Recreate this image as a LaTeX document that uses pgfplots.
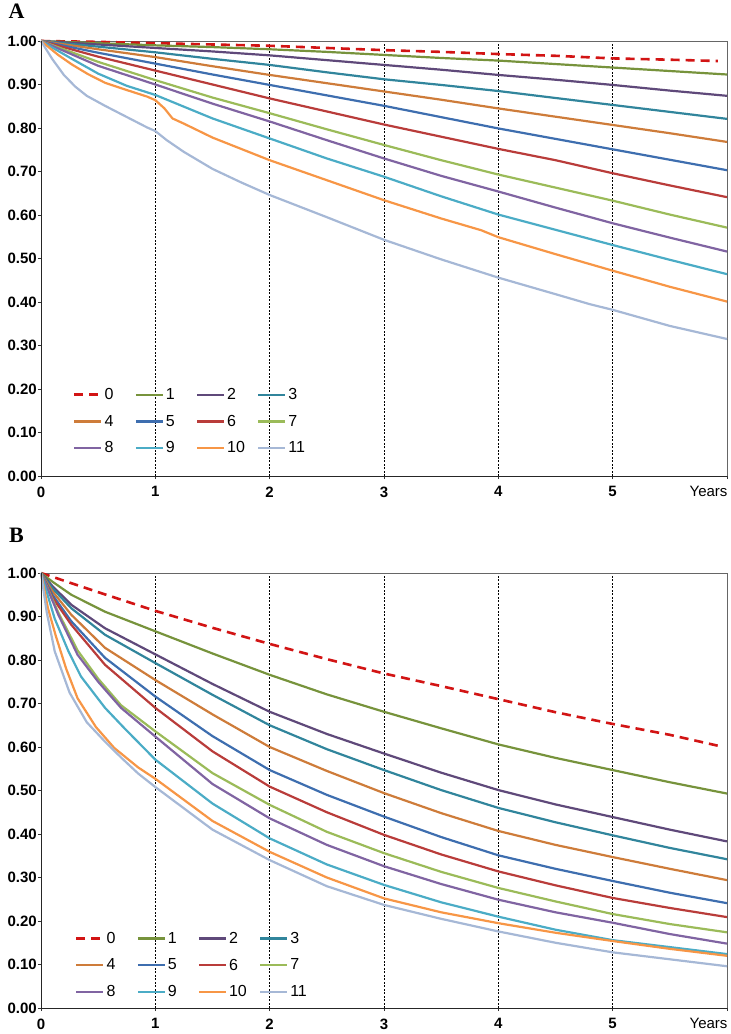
\documentclass[border=0pt]{standalone}
\usepackage{pgfplots}
\pgfplotsset{compat=1.18}
\usepackage{fontspec}
\setmainfont{Liberation Sans}
\newfontfamily\serifbf{Liberation Serif}

\definecolor{c0}{RGB}{210,20,20}
\definecolor{c1}{RGB}{119,147,60}
\definecolor{c2}{RGB}{95,73,122}
\definecolor{c3}{RGB}{49,133,156}
\definecolor{c4}{RGB}{206,124,58}
\definecolor{c5}{RGB}{62,110,175}
\definecolor{c6}{RGB}{185,60,58}
\definecolor{c7}{RGB}{155,187,89}
\definecolor{c8}{RGB}{128,100,162}
\definecolor{c9}{RGB}{75,172,198}
\definecolor{c10}{RGB}{247,150,70}
\definecolor{c11}{RGB}{166,184,214}

\newcommand\lgd[1]{\makebox[18pt][l]{#1}}

\pgfplotsset{panel/.style={
  scale only axis, width=686pt, height=435pt,
  xmin=0, xmax=6, ymin=0, ymax=1,
  clip=false,
  axis line style={black!60, line width=0.8pt},
  xtick={0,1,2,3,4,5},
  ytick={0,0.1,0.2,0.3,0.4,0.5,0.6,0.7,0.8,0.9,1},
  /pgf/number format/assume math mode=true,
  yticklabel style={inner xsep=1pt, /pgf/number format/.cd, fixed, fixed zerofill, precision=2},
  xticklabel style={yshift=-4pt},
  tick label style={font=\fontsize{15}{17}\selectfont\bfseries},
  xtick pos=bottom, ytick pos=left,
  tick align=outside, major tick length=3pt,
  tick style={black!80, line width=0.8pt},
  xmajorgrids,
  major x grid style={black, dash pattern=on 2pt off 1.5pt, line width=0.7pt},
  extra x ticks={6}, extra x tick labels={Years},
  extra x tick style={grid=none, tick label style={font=\fontsize{15}{17}\selectfont\mdseries, anchor=north east, xshift=4pt}},
  legend columns=4,
  legend image code/.code={\draw[#1] (0pt,0pt) -- (27pt,0pt);},
  legend style={draw=none, fill=none, font=\fontsize{16}{18}\selectfont,
     column sep=0pt, row sep=10pt,
     /tikz/every even column/.append style={column sep=10pt}},
  every axis plot/.append style={line width=2.2pt, line join=round},
}}

\begin{document}
\begin{tikzpicture}
\path[use as bounding box] (0,0) rectangle (731pt,-1034pt);

\node[font=\serifbf\bfseries\fontsize{22}{24}\selectfont] at (16.5pt,-11pt) {A};
\node[font=\serifbf\bfseries\fontsize{22}{24}\selectfont] at (16.5pt,-535pt) {B};

% ---------------- Panel A ----------------
\begin{axis}[panel, at={(41pt,-41pt)}, anchor=north west,
  legend style={at={(axis cs:0.253,0.211)}, anchor=north west}]
\addplot[c0, dash pattern=on 9pt off 6pt, line width=2.6pt] coordinates {(0,1) (0.5,0.998) (1,0.995) (1.5,0.992) (2,0.989) (2.5,0.984) (3,0.979) (3.5,0.975) (4,0.970) (4.5,0.966) (5,0.960) (5.5,0.957) (5.92,0.954)};
\addplot[c1] coordinates {(0,1) (0.5,0.995) (1,0.990) (1.5,0.986) (2,0.981) (2.5,0.975) (3,0.968) (3.5,0.961) (4,0.955) (4.5,0.947) (5,0.939) (5.5,0.931) (6,0.923)};
\addplot[c2] coordinates {(0,1) (0.5,0.992) (1,0.984) (1.5,0.976) (2,0.967) (2.5,0.956) (3,0.945) (3.5,0.934) (4,0.922) (4.5,0.911) (5,0.899) (5.5,0.886) (6,0.874)};
\addplot[c3] coordinates {(0,1) (0.5,0.987) (1,0.974) (1.5,0.959) (2,0.945) (2.5,0.928) (3,0.912) (3.5,0.899) (4,0.885) (4.5,0.869) (5,0.853) (5.5,0.837) (6,0.821)};
\addplot[c4] coordinates {(0,1) (0.5,0.981) (1,0.963) (1.5,0.942) (2,0.922) (2.5,0.903) (3,0.884) (3.5,0.865) (4,0.845) (4.5,0.826) (5,0.807) (5.5,0.788) (6,0.768)};
\addplot[c5] coordinates {(0,1) (0.5,0.973) (1,0.948) (1.5,0.923) (2,0.899) (2.5,0.875) (3,0.851) (3.5,0.825) (4,0.799) (4.5,0.775) (5,0.751) (5.5,0.727) (6,0.703)};
\addplot[c6] coordinates {(0,1) (0.5,0.964) (1,0.932) (1.5,0.900) (2,0.868) (2.5,0.838) (3,0.808) (3.5,0.780) (4,0.752) (4.5,0.726) (5,0.696) (5.5,0.668) (6,0.641)};
\addplot[c7] coordinates {(0,1) (0.5,0.952) (1,0.910) (1.5,0.870) (2,0.834) (2.5,0.797) (3,0.761) (3.5,0.726) (4,0.693) (4.5,0.663) (5,0.633) (5.5,0.601) (6,0.571)};
\addplot[c8] coordinates {(0,1) (0.5,0.943) (1,0.900) (1.5,0.856) (2,0.815) (2.5,0.772) (3,0.730) (3.5,0.690) (4,0.654) (4.5,0.617) (5,0.581) (5.5,0.548) (6,0.516)};
\addplot[c9] coordinates {(0,1) (0.25,0.962) (0.5,0.925) (0.75,0.897) (1,0.876) (1.5,0.822) (2,0.776) (2.5,0.730) (3,0.688) (3.5,0.643) (4,0.601) (4.5,0.566) (5,0.531) (5.5,0.497) (6,0.464)};
\addplot[c10] coordinates {(0,1) (0.15,0.968) (0.27,0.946) (0.41,0.924) (0.56,0.904) (0.73,0.889) (0.93,0.872) (1,0.864) (1.08,0.845) (1.15,0.822) (1.25,0.810) (1.5,0.778) (2,0.726) (2.5,0.680) (3,0.634) (3.5,0.592) (3.85,0.565) (4,0.549) (4.5,0.510) (5,0.472) (5.5,0.435) (6,0.401)};
\addplot[c11] coordinates {(0,1) (0.1,0.958) (0.2,0.922) (0.3,0.895) (0.4,0.874) (0.56,0.851) (0.73,0.828) (0.93,0.801) (1,0.793) (1.1,0.772) (1.25,0.745) (1.5,0.706) (1.75,0.675) (2,0.646) (2.5,0.595) (3,0.543) (3.5,0.498) (4,0.456) (4.5,0.418) (4.8,0.395) (5,0.382) (5.5,0.345) (6,0.315)};
\legend{\lgd{0},\lgd{1},\lgd{2},\lgd{3},\lgd{4},\lgd{5},\lgd{6},\lgd{7},\lgd{8},\lgd{9},\lgd{10},\lgd{11}}
\draw[black!85, line width=0.9pt] (axis cs:0,1) -- (axis cs:0,0) -- (axis cs:6,0);
\end{axis}

% ---------------- Panel B ----------------
\begin{axis}[panel, at={(41pt,-573pt)}, anchor=north west,
  legend style={at={(axis cs:0.27,0.184)}, anchor=north west}]
\addplot[c0, dash pattern=on 9pt off 6pt, line width=2.6pt] coordinates {(0,1) (0.5,0.956) (1,0.913) (1.5,0.874) (2,0.837) (2.5,0.802) (3,0.769) (3.5,0.740) (4,0.710) (4.5,0.680) (5,0.653) (5.5,0.628) (5.92,0.603)};
\addplot[c1] coordinates {(0,1) (0.1,0.980) (0.265,0.950) (0.56,0.911) (1,0.866) (1.5,0.815) (2,0.766) (2.5,0.721) (3,0.681) (3.5,0.643) (4,0.606) (4.5,0.575) (5,0.547) (5.5,0.519) (6,0.493)};
\addplot[c2] coordinates {(0,1) (0.1,0.970) (0.265,0.927) (0.56,0.873) (1,0.813) (1.5,0.745) (2,0.681) (2.5,0.630) (3,0.585) (3.5,0.541) (4,0.501) (4.5,0.468) (5,0.439) (5.5,0.410) (6,0.383)};
\addplot[c3] coordinates {(0,1) (0.1,0.965) (0.265,0.919) (0.56,0.858) (1,0.793) (1.5,0.720) (2,0.650) (2.5,0.595) (3,0.547) (3.5,0.501) (4,0.460) (4.5,0.427) (5,0.397) (5.5,0.368) (6,0.342)};
\addplot[c4] coordinates {(0,1) (0.1,0.958) (0.265,0.904) (0.56,0.828) (1,0.754) (1.5,0.675) (2,0.600) (2.5,0.545) (3,0.494) (3.5,0.448) (4,0.407) (4.5,0.375) (5,0.347) (5.5,0.320) (6,0.294)};
\addplot[c5] coordinates {(0,1) (0.1,0.950) (0.265,0.889) (0.56,0.805) (1,0.716) (1.5,0.625) (2,0.547) (2.5,0.490) (3,0.440) (3.5,0.393) (4,0.351) (4.5,0.320) (5,0.292) (5.5,0.265) (6,0.241)};
\addplot[c6] coordinates {(0,1) (0.1,0.944) (0.265,0.881) (0.56,0.789) (1,0.690) (1.5,0.590) (2,0.509) (2.5,0.450) (3,0.398) (3.5,0.353) (4,0.314) (4.5,0.282) (5,0.253) (5.5,0.230) (6,0.209)};
\addplot[c7] coordinates {(0,1) (0.15,0.910) (0.32,0.822) (0.5,0.757) (0.7,0.696) (1,0.636) (1.5,0.540) (2,0.467) (2.5,0.405) (3,0.356) (3.5,0.313) (4,0.276) (4.5,0.245) (5,0.216) (5.5,0.193) (6,0.174)};
\addplot[c8] coordinates {(0,1) (0.15,0.905) (0.32,0.812) (0.5,0.750) (0.7,0.690) (1,0.624) (1.5,0.515) (2,0.436) (2.5,0.375) (3,0.326) (3.5,0.285) (4,0.249) (4.5,0.220) (5,0.196) (5.5,0.170) (6,0.148)};
\addplot[c9] coordinates {(0,1) (0.12,0.895) (0.24,0.820) (0.35,0.762) (0.56,0.690) (0.73,0.643) (1,0.571) (1.5,0.470) (2,0.390) (2.5,0.330) (3,0.283) (3.5,0.243) (4,0.210) (4.5,0.180) (5,0.156) (5.5,0.140) (6,0.124)};
\addplot[c10] coordinates {(0,1) (0.06,0.920) (0.13,0.855) (0.22,0.780) (0.32,0.712) (0.48,0.646) (0.64,0.598) (0.85,0.553) (1,0.527) (1.5,0.430) (2,0.359) (2.5,0.300) (3,0.252) (3.5,0.220) (4,0.195) (4.5,0.173) (5,0.154) (5.5,0.136) (6,0.120)};
\addplot[c11] coordinates {(0,1) (0.05,0.910) (0.12,0.820) (0.25,0.725) (0.4,0.657) (0.55,0.615) (0.7,0.576) (0.85,0.539) (1,0.508) (1.5,0.410) (2,0.340) (2.5,0.280) (3,0.237) (3.5,0.205) (4,0.176) (4.5,0.150) (5,0.128) (5.5,0.112) (6,0.096)};
\legend{\lgd{0},\lgd{1},\lgd{2},\lgd{3},\lgd{4},\lgd{5},\lgd{6},\lgd{7},\lgd{8},\lgd{9},\lgd{10},\lgd{11}}
\draw[black!85, line width=0.9pt] (axis cs:0,1) -- (axis cs:0,0) -- (axis cs:6,0);
\end{axis}
\end{tikzpicture}
\end{document}
